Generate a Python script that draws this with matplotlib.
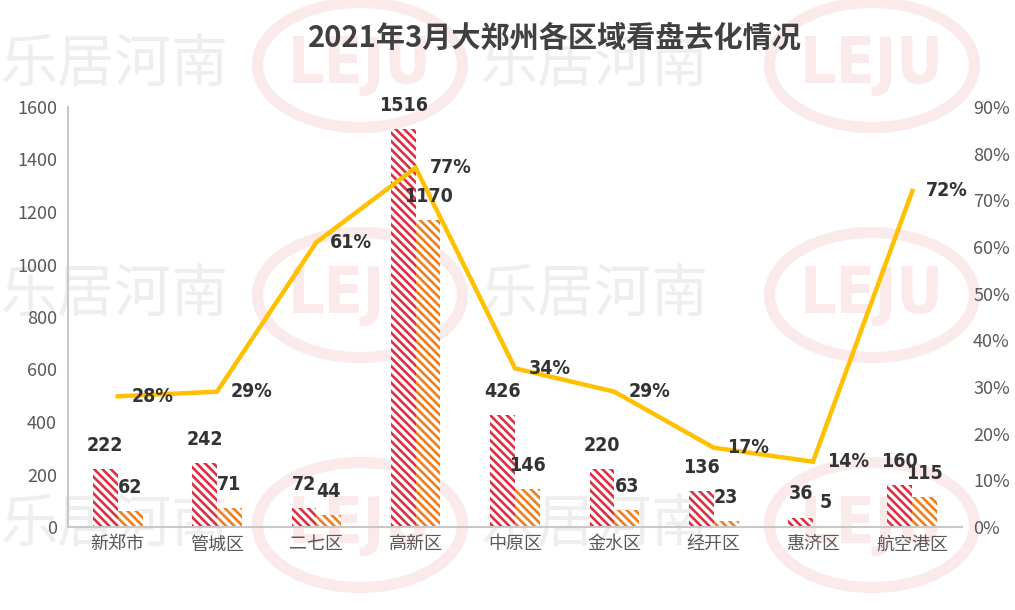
import matplotlib.pyplot as plt
from matplotlib.patches import Ellipse
from matplotlib.ticker import FuncFormatter

# data
districts = ['新郑市', '管城区', '二七区', '高新区', '中原区', '金水区', '经开区', '惠济区', '航空港区']
viewed = [222, 242, 72, 1516, 426, 220, 136, 36, 160]
sold = [62, 71, 44, 1170, 146, 63, 23, 5, 115]
rate = [0.28, 0.29, 0.61, 0.77, 0.34, 0.29, 0.17, 0.14, 0.72]

red = '#DC2F43'
orange = '#EE7F1B'
gold = '#FFC000'
label_col = '#333333'
tick_col = '#595959'

plt.rcParams['font.family'] = ['Noto Sans CJK SC', 'DejaVu Sans']
plt.rcParams['hatch.linewidth'] = 1.9
num_font = ['DejaVu Sans']

fig = plt.figure(figsize=(10.15, 6.10), dpi=100)

# watermark tiles (behind everything)
W, H = 1015, 610
for yy in [65, 295, 525]:
    for tx in [115, 595]:
        fig.text(tx / W, 1 - yy / H, '乐居河南', fontsize=41, color='#EEEEEE',
                 ha='center', va='center', zorder=-5)
    for ex in [360, 872]:
        e = Ellipse((ex / W, 1 - yy / H), 205 / W, 125 / H, transform=fig.transFigure,
                    fill=False, edgecolor='#FBEAEA', linewidth=8, zorder=-5)
        fig.patches.append(e)
        fig.text(ex / W, 1 - yy / H, 'LEJU', fontsize=46, fontweight='bold',
                 family=num_font, fontstretch='condensed', color='#FBEAEA',
                 ha='center', va='center', zorder=-5)

ax = fig.add_axes([68 / W, 1 - 527 / H, 894 / W, 420 / H])
ax2 = ax.twinx()
ax.patch.set_visible(False)
ax2.patch.set_visible(False)

x = list(range(len(districts)))
w = 0.25
ax.bar([i - w / 2 for i in x], viewed, w, color='white', edgecolor=red,
       hatch='\\' * 4, linewidth=0)
ax.bar([i + w / 2 for i in x], sold, w, color='white', edgecolor=orange,
       hatch='\\' * 4, linewidth=0)

ax2.plot(x, rate, color=gold, linewidth=3.2, solid_joinstyle='miter', zorder=3)

ax.set_xlim(-0.5, len(districts) - 0.5)
ax.set_ylim(0, 1600)
ax.set_yticks(range(0, 1601, 200))
ax2.set_ylim(0, 0.9)
ax2.set_yticks([i / 10 for i in range(10)])
ax2.yaxis.set_major_formatter(FuncFormatter(lambda v, p: f'{round(v * 100)}%'))

ax.set_xticks(x)
ax.set_xticklabels(districts)
ax.tick_params(axis='both', length=0, labelsize=13, colors=tick_col, pad=8)
ax.tick_params(axis='x', pad=6)
ax2.tick_params(axis='y', length=0, labelsize=13, colors=tick_col, pad=8)

for a in (ax, ax2):
    a.spines['top'].set_visible(False)
    a.spines['right'].set_visible(False)
ax2.spines['left'].set_visible(False)
ax2.spines['bottom'].set_visible(False)
ax.spines['left'].set_color('#C8C8C8')
ax.spines['bottom'].set_color('#C8C8C8')
ax.spines['left'].set_linewidth(1.5)
ax.spines['bottom'].set_linewidth(1.5)

# labels, drawn on the top axes so they sit over the line
to_ax2 = lambda v: v / 1600 * 0.9
lab = dict(textcoords='offset points', ha='center', va='center', fontsize=14,
           fontweight='bold', family=num_font, fontstretch='condensed',
           color=label_col, zorder=5)
for i in x:
    ax2.annotate(str(viewed[i]), (i - w / 2, to_ax2(viewed[i])), xytext=(0, 17), **lab)
    ax2.annotate(str(sold[i]), (i + w / 2, to_ax2(sold[i])), xytext=(0, 17), **lab)
    ax2.annotate(f'{round(rate[i] * 100)}%', (i, rate[i]), xytext=(25, 0), **lab)

fig.text(555 / W, 1 - 38 / H, '2021年3月大郑州各区域看盘去化情况', ha='center', va='center',
         fontsize=21, fontweight='bold', color='#404040')

fig.savefig('out.png', dpi=100)
